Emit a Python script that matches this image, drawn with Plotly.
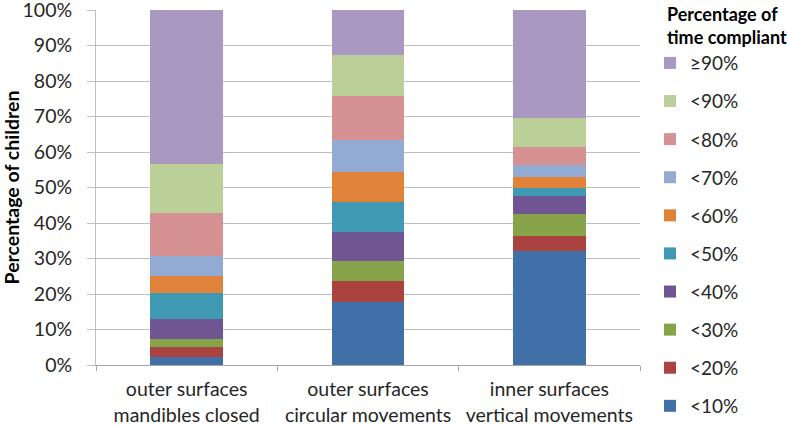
import plotly.graph_objects as go

categories = ["outer surfaces<br>mandibles closed",
              "outer surfaces<br>circular movements",
              "inner surfaces<br>vertical movements"]

series_names = ["<10%", "<20%", "<30%", "<40%", "<50%",
                "<60%", "<70%", "<80%", "<90%", "≥90%"]

v_lt10 = [2.3, 17.8, 32.2]
v_lt20 = [2.9, 5.8, 4.0]
v_lt30 = [2.2, 5.8, 6.4]
v_lt40 = [5.5, 8.0, 5.0]
v_lt50 = [7.3, 8.5, 2.3]
v_lt60 = [4.9, 8.6, 3.0]
v_lt70 = [5.6, 8.8, 3.3]
v_lt80 = [12.0, 12.4, 5.2]
v_lt90 = [13.8, 11.6, 8.2]
v_ge90 = [43.5, 12.7, 30.4]

series_values = [v_lt10, v_lt20, v_lt30, v_lt40, v_lt50,
                 v_lt60, v_lt70, v_lt80, v_lt90, v_ge90]

colors = ["#4170A8", "#AA423F", "#88A44B", "#6F5591", "#3F99B2",
          "#E0823A", "#93ABD3", "#D69192", "#BBD098", "#A999C1"]

y_ticks = [0, 10, 20, 30, 40, 50, 60, 70, 80, 90, 100]
y_tick_labels = [f"{t}%" for t in y_ticks]

legend_title = "<b>Percentage of<br>time compliant</b>"
y_title = "<b>Percentage of children</b>"

FONT = "Lato, 'Open Sans', sans-serif"

fig = go.Figure()
n = len(series_names)
for i, (name, vals, col) in enumerate(zip(series_names, series_values, colors)):
    fig.add_trace(go.Bar(
        x=categories, y=vals, name=name,
        marker=dict(color=col, line=dict(width=0)),
        legendgroup=name,
        legendrank=n - i,
        hoverinfo="skip",
    ))

fig.update_layout(
    barmode="stack",
    bargap=0.6,
    width=787, height=426,
    margin=dict(l=96, r=147, t=10, b=61, autoexpand=False),
    paper_bgcolor="white", plot_bgcolor="white",
    font=dict(family=FONT, size=19, color="#262626"),
    hovermode=False,
    showlegend=True,
    legend=dict(
        traceorder="grouped",
        x=(650 - 96) / 544, xanchor="left", xref="paper",
        y=0.904, yanchor="top",
        font=dict(size=19, color="#262626"),
        tracegroupgap=10.4,
        itemwidth=30,
        maxheight=600,
        bgcolor="rgba(0,0,0,0)",
        itemclick=False, itemdoubleclick=False,
    ),
    annotations=[dict(
        text=legend_title, xref="paper", yref="paper",
        x=(665 - 96) / 544, y=1.0, xanchor="left", yanchor="top",
        showarrow=False, align="left",
        font=dict(size=18, color="#000000", family=FONT),
        yshift=9,
    )],
)

fig.update_xaxes(
    showline=True, linecolor="#A6A6A6", linewidth=1,
    ticks="outside", tickson="boundaries", ticklen=5, tickcolor="#A6A6A6",
    tickfont=dict(size=19.5, color="#262626"),
    ticklabelstandoff=7,
    showgrid=False, automargin=False,
)
fig.update_yaxes(
    range=[0, 100], autorange=False,
    tickvals=y_ticks, ticktext=y_tick_labels,
    showgrid=True, gridcolor="#BFBFBF", gridwidth=1,
    showline=True, linecolor="#BFBFBF", linewidth=1,
    ticks="outside", ticklen=8, tickcolor="#BFBFBF",
    ticklabelstandoff=11, ticklabeloverflow="allow",
    tickfont=dict(size=19.5, color="#262626"),
    title=dict(text=y_title,
               font=dict(size=19.5, color="#000000"), standoff=5),
    zeroline=False, automargin=False,
)

fig.write_html("out.html", config={"displayModeBar": False, "staticPlot": True},
               post_script="document.body.style.margin='0';")
